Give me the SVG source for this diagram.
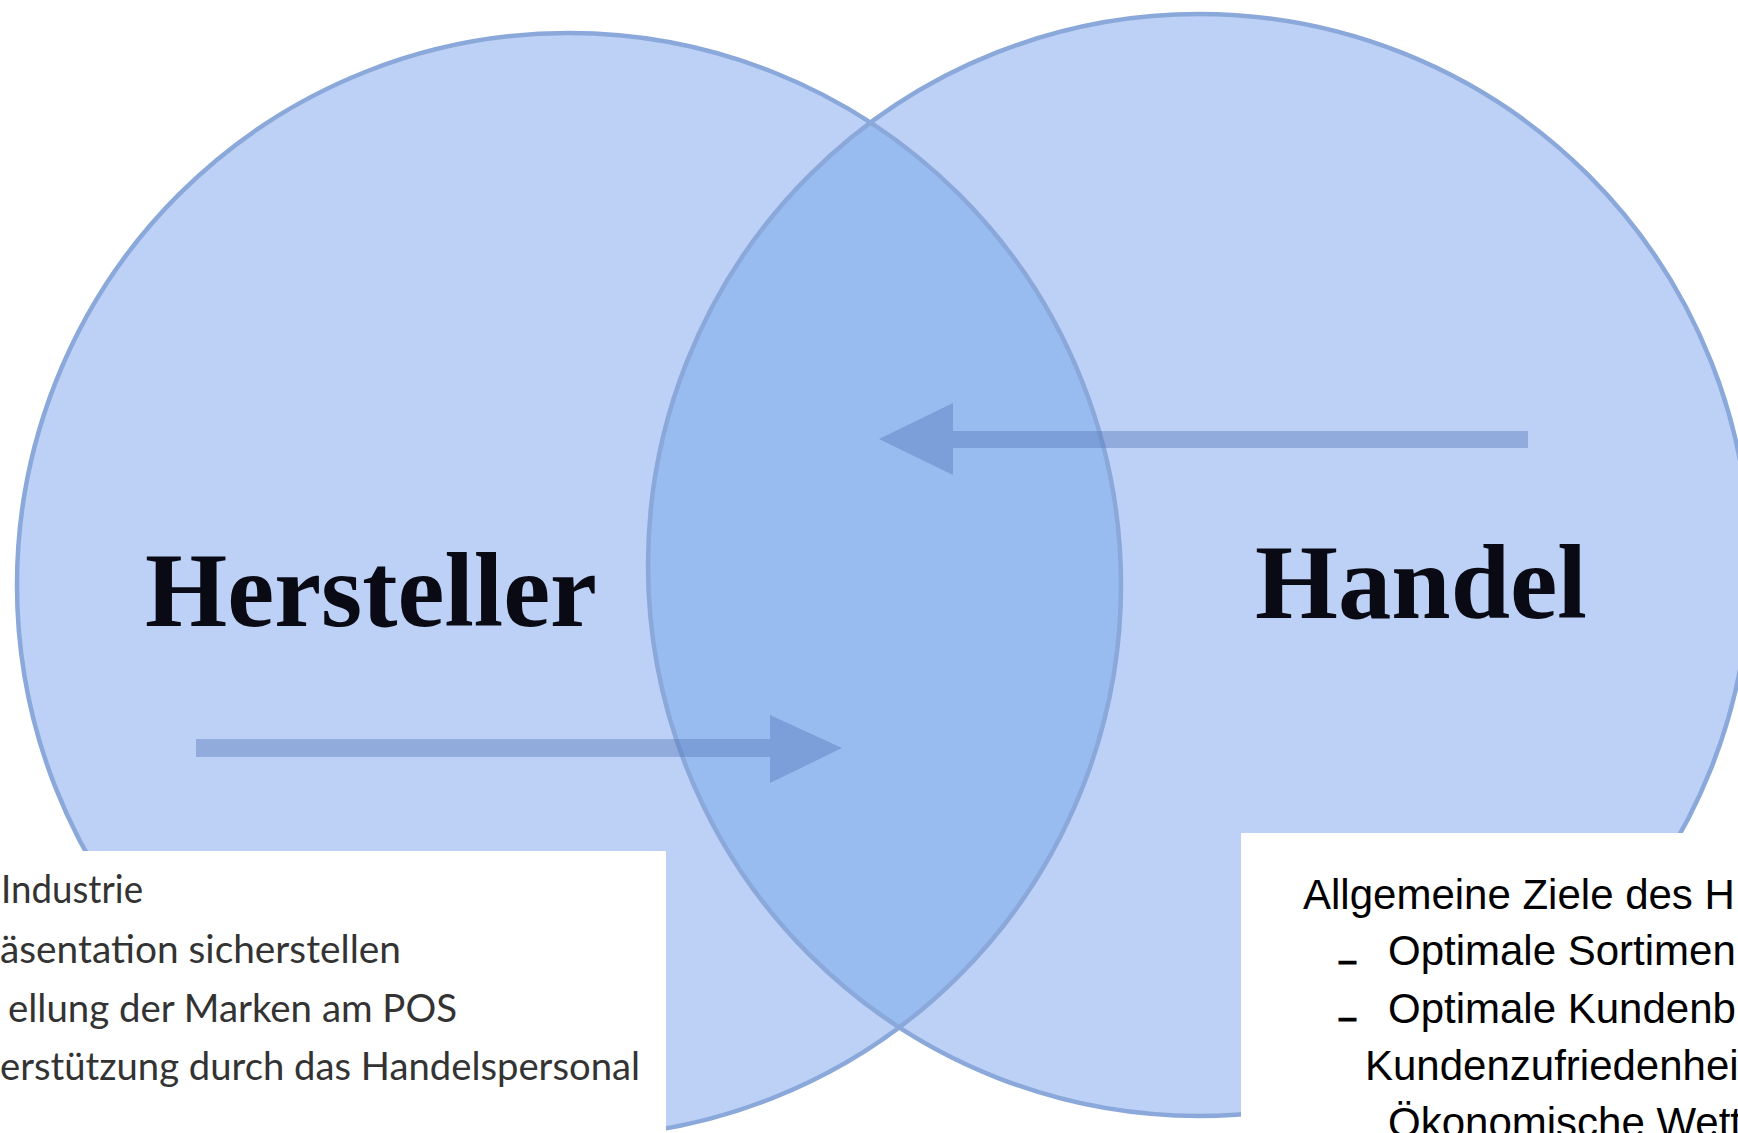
<svg xmlns="http://www.w3.org/2000/svg" width="1738" height="1133" viewBox="0 0 1738 1133">
<style>
.fill{fill:#bdd1f6}
.ring{fill:none;stroke:#8ba8da;stroke-width:4.5}
.lens{fill:#99bcf0}
.arrow{fill:#4f74b8;fill-opacity:0.4}
.title{font-family:"Liberation Serif","Times New Roman",serif;font-weight:bold;font-size:105px;fill:#0a0a14}
.ltxt{font-family:Lato,"Open Sans",sans-serif;font-size:38px;fill:#333333}
.rtxt{font-family:"Liberation Sans",Arial,sans-serif;font-size:42px;fill:#000000}
.dash{font-family:"Liberation Sans",Arial,sans-serif;font-weight:bold;font-size:27px;fill:#000;stroke:#000;stroke-width:2.5}
.box{fill:#ffffff}
</style>
<defs>
<clipPath id="clipLeft"><circle cx="569" cy="585" r="552"/></clipPath>
</defs>
<rect x="0" y="0" width="1738" height="1133" fill="#ffffff"/>
<g id="hersteller">
<circle class="fill" cx="569" cy="585" r="552"/>
</g>
<g id="handel">
<circle class="fill" cx="1199" cy="565" r="551"/>
</g>
<g id="overlap">
<circle class="lens" cx="1199" cy="565" r="551" clip-path="url(#clipLeft)"/>
</g>
<g id="outlines">
<circle class="ring" cx="569" cy="585" r="552"/>
<circle class="ring" cx="1199" cy="565" r="551"/>
</g>
<g id="connectors">
<path class="arrow" d="M1528,431 L953,431 L953,403 L879,439 L953,475 L953,448 L1528,448 Z"/>
<path class="arrow" d="M196,739 L770,739 L770,715 L842,748 L770,783 L770,757 L196,757 Z"/>
</g>
<g id="labels">
<text class="title" x="145" y="626" textLength="452" lengthAdjust="spacingAndGlyphs">Hersteller</text>
<text class="title" x="1255" y="618" textLength="332" lengthAdjust="spacingAndGlyphs">Handel</text>
</g>
<g id="box-left">
<rect class="box" x="0" y="851" width="666" height="282"/>
<text class="ltxt" x="1" y="903" textLength="142" lengthAdjust="spacingAndGlyphs">Industrie</text>
<text class="ltxt" x="0" y="963" textLength="401" lengthAdjust="spacingAndGlyphs">äsentation sicherstellen</text>
<text class="ltxt" x="8" y="1022" textLength="449" lengthAdjust="spacingAndGlyphs">ellung der Marken am POS</text>
<text class="ltxt" x="0" y="1080" textLength="640" lengthAdjust="spacingAndGlyphs">erstützung durch das Handelspersonal</text>
</g>
<g id="box-right">
<rect class="box" x="1241" y="833" width="497" height="300"/>
<text class="rtxt" x="1303" y="909">Allgemeine Ziele des H</text>
<text class="dash" x="1340" y="960">_</text>
<text class="rtxt" x="1388" y="965">Optimale Sortimen</text>
<text class="dash" x="1340" y="1017">_</text>
<text class="rtxt" x="1388" y="1023">Optimale Kundenb</text>
<text class="rtxt" x="1365" y="1080">Kundenzufriedenhei</text>
<text class="rtxt" x="1388" y="1137">Ökonomische Wett</text>
</g>
</svg>
